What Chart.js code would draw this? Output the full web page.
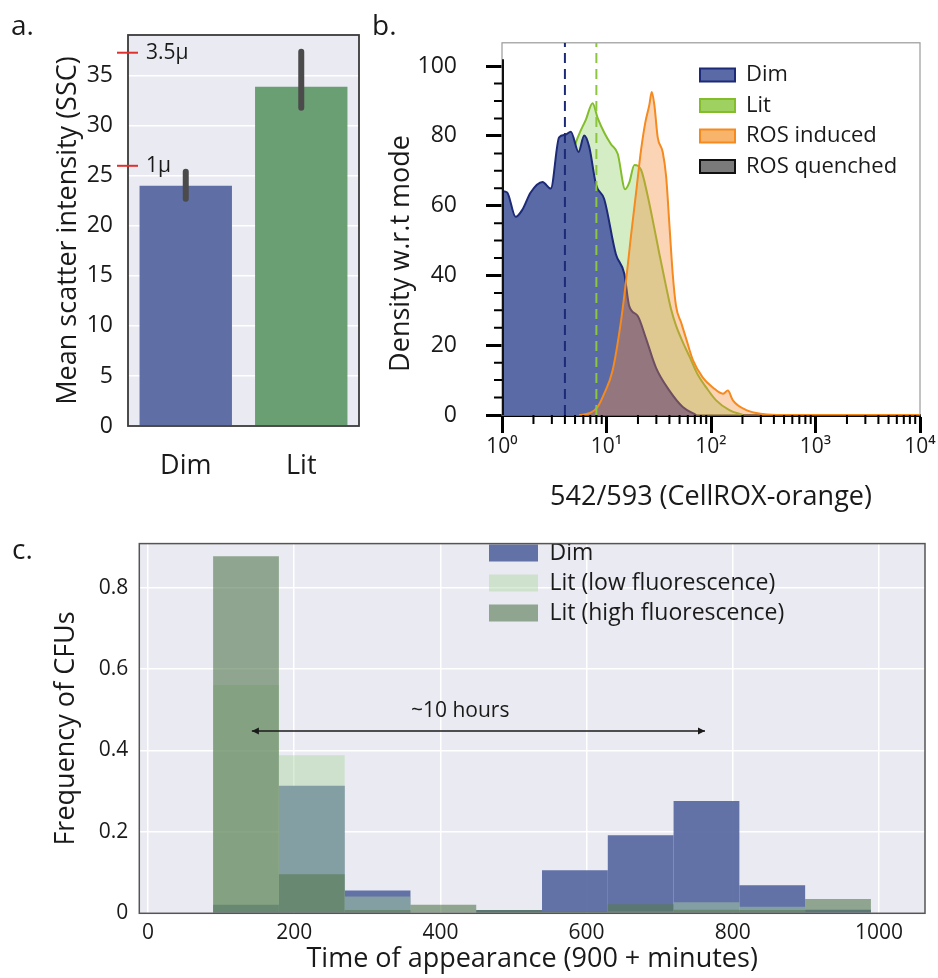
<!DOCTYPE html>
<html>
<head>
<meta charset="utf-8">
<title>Scatter, CellROX and CFU timing</title>
<script src="https://cdn.jsdelivr.net/npm/chart.js@4.4.1/dist/chart.umd.min.js"></script>
<style>
  body { margin: 0; background: #fff; }
  #figure { position: relative; width: 938px; height: 978px; font-family: 'Open Sans', sans-serif; color: #1a1a1a; }
  #figure canvas { position: absolute; }
  .tag { position: absolute; font-size: 28px; line-height: 28px; }
</style>
</head>
<body>
<div id="figure">
  <canvas id="chart-a" width="370" height="500" style="left:0;top:0"></canvas>
  <canvas id="chart-b" width="568" height="520" style="left:370px;top:0"></canvas>
  <canvas id="chart-c" width="938" height="458" style="left:0;top:520px"></canvas>
  <div class="tag" style="left:11px;top:10px">a.</div>
  <div class="tag" style="left:372px;top:10px">b.</div>
  <div class="tag" style="left:12px;top:534px">c.</div>
</div>
<script>
// ---- panel a: mean side scatter ----
const groups = ['Dim', 'Lit'];
const meanSSC = [24.0, 33.9];
const sscLow = [22.7, 31.8];
const sscHigh = [25.4, 37.4];
const sscTicks = [0, 5, 10, 15, 20, 25, 30, 35];
const beadLevels = [26.0, 37.3];          // size reference beads
const beadLabels = ['1μ', '3.5μ'];

// ---- panel b: CellROX-orange histograms (x = intensity, y = density w.r.t mode) ----
const dimX = [1.0, 1.12, 1.35, 1.57, 1.88, 2.44, 2.93, 3.52, 4.02, 4.56, 5.4, 6.12, 6.84, 7.93, 9.5, 12.3, 14.8, 16.5, 19.9, 23.9, 29.8, 40.0, 53.7, 72.1];
const dimDensity = [64.2, 63.8, 56.8, 58.9, 63.8, 66.8, 64.9, 79.6, 80.3, 81.2, 75.4, 80.1, 76.8, 66.1, 61.9, 46.1, 40.5, 31.2, 28.4, 21.9, 13.5, 7.0, 2.3, 0];
const litX = [1.0, 2.0, 3.0, 4.0, 4.6, 5.4, 6.35, 7.36, 8.22, 9.5, 11.0, 12.8, 15.1, 16.5, 18.5, 21.4, 24.8, 28.7, 32.1, 37.2, 41.5, 46.3, 53.7, 62.2, 74.6, 90.0, 112, 150, 202];
const litDensity = [3, 22, 45, 64, 74, 80.1, 84.7, 89.4, 85.2, 81.0, 77.7, 74.9, 64.7, 66.6, 71.7, 70.3, 62.8, 53.5, 46.1, 36.8, 30.3, 25.6, 20.9, 16.8, 11.6, 7.9, 4.2, 1.4, 0];
const rosX = [5.48, 6.84, 8.22, 9.5, 11.4, 13.7, 15.4, 17.2, 19.2, 21.4, 23.5, 25.7, 27.1, 28.7, 30.9, 34.5, 37.2, 40.0, 43.0, 46.3, 51.8, 57.8, 67.0, 83.5, 104, 130, 145, 162, 218, 314, 489, 10000];
const rosDensity = [0, 0.5, 2.3, 6.1, 12.6, 26.5, 38.6, 51.7, 63.8, 75.9, 83.8, 88.9, 92.6, 88.9, 79.6, 75.4, 68.4, 54.5, 40.5, 31.2, 26.5, 21.9, 15.8, 10.7, 7.9, 6.1, 7.0, 4.2, 1.4, 0.3, 0, 0];
const quenchedX = [1, 1];
const quenchedDensity = [0, 102];
const dimMedian = 4.0;
const litMedian = 8.0;
const decadeTicks = [1, 10, 100, 1000, 10000];
const decadeLabels = ['10⁰', '10¹', '10²', '10³', '10⁴'];
const logMinorSteps = [2, 3, 4, 5, 6, 7, 8, 9];
const densityTicks = [0, 20, 40, 60, 80, 100];

// ---- panel c: time of CFU appearance ----
const binEdges = [89, 179, 269, 359, 449, 539, 629, 719, 809, 899, 989];
const dimFreq     = [0.021, 0.313, 0.056, 0.000, 0.008, 0.106, 0.192, 0.276, 0.069, 0.009];
const litLowFreq  = [0.561, 0.388, 0.041, 0.000, 0.003, 0.003, 0.005, 0.027, 0.016, 0.000];
const litHighFreq = [0.877, 0.096, 0.008, 0.021, 0.008, 0.004, 0.022, 0.009, 0.008, 0.035];
const timeTicks = [0, 200, 400, 600, 800, 1000];
const freqTicks = [0, 0.2, 0.4, 0.6, 0.8];
const spanFrom = 142, spanTo = 762, spanLevel = 0.448;
const spanText = '~10 hours', spanTextAt = 427, spanTextLevel = 0.497;

Chart.defaults.font.family = "'Open Sans', sans-serif";
Chart.defaults.color = '#1a1a1a';
Chart.defaults.animation = false;
Chart.defaults.events = [];
Chart.defaults.plugins.tooltip.enabled = false;

const pairs = (xs, ys) => xs.map((x, i) => ({ x, y: ys[i] }));
const fixTicks = list => scale => { scale.ticks = list.map(v => ({ value: v })); };

const binCenters = binEdges.slice(0, -1).map((e, i) => (e + binEdges[i + 1]) / 2);
const densityMinor = [];
for (let v = 5; v < 100; v += 5) if (v % 20) densityMinor.push(v);
const intensityMinor = [];
decadeTicks.slice(0, -1).forEach(d => logMinorSteps.forEach(m => intensityMinor.push(d * m)));

// plot background + frame
const plotFrame = {
  id: 'plotFrame',
  beforeDraw(chart, args, o) {
    if (!o.fill) return;
    const { ctx, chartArea: a } = chart;
    ctx.save();
    ctx.fillStyle = o.fill;
    ctx.fillRect(a.left, a.top, a.width, a.height);
    ctx.restore();
  },
  beforeDatasetsDraw(chart, args, o) { if (o.under) drawFrame(chart, o); },
  afterDatasetsDraw(chart, args, o) { if (!o.under) drawFrame(chart, o); }
};
function drawFrame(chart, o) {
  const { ctx, chartArea: a } = chart;
  ctx.save();
  ctx.strokeStyle = o.color;
  ctx.lineWidth = o.width;
  ctx.strokeRect(a.left, a.top, a.width, a.height);
  ctx.restore();
}

// move the built-in legend to a spot inside the plot
const legendSpot = {
  id: 'legendSpot',
  afterLayout(chart, args, o) {
    if (!chart.legend) return;
    chart.legend.left = o.left;
    chart.legend.top = o.top;
  }
};

// panel a: CI bars and bead size marks
const errorBars = {
  id: 'errorBars',
  afterDatasetsDraw(chart) {
    const { ctx, scales: { y } } = chart;
    const meta = chart.getDatasetMeta(0);
    ctx.save();
    ctx.strokeStyle = '#4b4b4b';
    ctx.lineWidth = 6;
    ctx.lineCap = 'round';
    meta.data.forEach((bar, i) => {
      ctx.beginPath();
      ctx.moveTo(bar.x, y.getPixelForValue(sscLow[i]));
      ctx.lineTo(bar.x, y.getPixelForValue(sscHigh[i]));
      ctx.stroke();
    });
    ctx.restore();
  }
};
const beadMarks = {
  id: 'beadMarks',
  afterDraw(chart) {
    const { ctx, chartArea: a, scales: { y } } = chart;
    ctx.save();
    ctx.font = "21px 'Open Sans', sans-serif";
    ctx.textBaseline = 'middle';
    beadLevels.forEach((v, i) => {
      const py = y.getPixelForValue(v);
      ctx.strokeStyle = '#e0302c';
      ctx.lineWidth = 2;
      ctx.beginPath();
      ctx.moveTo(a.left - 11, py);
      ctx.lineTo(a.left + 10, py);
      ctx.stroke();
      ctx.fillStyle = '#1a1a1a';
      ctx.fillText(beadLabels[i], a.left + 18, py);
    });
    ctx.restore();
  }
};

// panel b: short minor ticks
const minorTicks = {
  id: 'minorTicks',
  afterDraw(chart) {
    const { ctx, chartArea: a, scales: { x, y } } = chart;
    ctx.save();
    ctx.strokeStyle = '#000';
    ctx.lineWidth = 2;
    ctx.beginPath();
    intensityMinor.forEach(v => {
      const px = x.getPixelForValue(v);
      ctx.moveTo(px, a.bottom);
      ctx.lineTo(px, a.bottom + 9);
    });
    densityMinor.forEach(v => {
      const py = y.getPixelForValue(v);
      ctx.moveTo(a.left, py);
      ctx.lineTo(a.left - 8, py);
    });
    ctx.stroke();
    ctx.restore();
  }
};

// panel c: double arrow with label
const spanArrow = {
  id: 'spanArrow',
  afterDatasetsDraw(chart) {
    const { ctx, scales: { x, y } } = chart;
    const x1 = x.getPixelForValue(spanFrom), x2 = x.getPixelForValue(spanTo);
    const py = y.getPixelForValue(spanLevel);
    ctx.save();
    ctx.strokeStyle = '#1a1a1a';
    ctx.fillStyle = '#1a1a1a';
    ctx.lineWidth = 1.5;
    ctx.beginPath();
    ctx.moveTo(x1, py);
    ctx.lineTo(x2, py);
    ctx.stroke();
    [[x1, 1], [x2, -1]].forEach(([px, dir]) => {
      ctx.beginPath();
      ctx.moveTo(px, py);
      ctx.lineTo(px + dir * 7, py - 3.5);
      ctx.lineTo(px + dir * 7, py + 3.5);
      ctx.closePath();
      ctx.fill();
    });
    ctx.font = "21px 'Open Sans', sans-serif";
    ctx.textAlign = 'center';
    ctx.textBaseline = 'middle';
    ctx.fillText(spanText, x.getPixelForValue(spanTextAt), y.getPixelForValue(spanTextLevel));
    ctx.restore();
  }
};

const legendLabels = (boxWidth, boxHeight, size, padding) => ({
  boxWidth, boxHeight, padding,
  font: { size },
  color: '#1a1a1a',
  generateLabels(chart) {
    return Chart.defaults.plugins.legend.labels.generateLabels(chart).map(item => {
      const ds = chart.data.datasets[item.datasetIndex];
      if (ds.legendColor) item.fillStyle = ds.legendColor;
      if (item.lineWidth > 2) item.lineWidth = 2;
      return item;
    });
  },
  filter: (item, data) => !data.datasets[item.datasetIndex].isMarker,
  sort: (a, b) => a.datasetIndex - b.datasetIndex
});

// ---------------- a ----------------
new Chart(document.getElementById('chart-a'), {
  type: 'bar',
  data: {
    labels: groups,
    datasets: [{
      label: 'Mean scatter intensity',
      data: meanSSC,
      backgroundColor: ['#5f6fa5', '#6a9f73'],
      barPercentage: 0.8,
      categoryPercentage: 1
    }]
  },
  options: {
    responsive: false,
    layout: { padding: { top: 35, right: 11, left: 0, bottom: 0 } },
    scales: {
      x: {
        grid: { display: false },
        border: { display: false },
        ticks: { font: { size: 27 }, padding: 16 },
        afterFit: s => { s.height = 74; }
      },
      y: {
        min: 0,
        max: 39.07,
        afterBuildTicks: fixTicks(sscTicks),
        grid: { color: '#ffffff', lineWidth: 1.5, drawTicks: false },
        border: { display: false },
        ticks: { font: { size: 23 }, padding: 15 },
        title: { display: true, text: 'Mean scatter intensity (SSC)', font: { size: 27 }, padding: { top: 52, bottom: 0 } },
        afterFit: s => { s.width = 128; }
      }
    },
    plugins: {
      legend: { display: false },
      plotFrame: { fill: '#eaeaf2', color: '#3a3a3a', width: 1.8 }
    }
  },
  plugins: [plotFrame, errorBars, beadMarks]
});

// ---------------- b ----------------
const Y_TOP_B = 106.7;
const curve = { pointRadius: 0, borderWidth: 2, cubicInterpolationMode: 'monotone' };
const straight = { pointRadius: 0, borderWidth: 2, tension: 0, cubicInterpolationMode: 'default', fill: false };
new Chart(document.getElementById('chart-b'), {
  type: 'line',
  data: {
    datasets: [
      { ...curve, label: 'Dim', data: pairs(dimX, dimDensity), borderColor: '#1c2a78', backgroundColor: '#5a6aa6', fill: 'origin', order: 1 },
      { ...curve, label: 'Lit', data: pairs(litX, litDensity), borderColor: '#84bd2c', backgroundColor: 'rgba(170,220,140,0.5)', legendColor: '#9fd160', fill: 'origin', order: 2 },
      { ...curve, label: 'ROS induced', data: pairs(rosX, rosDensity), borderColor: '#f58a1f', backgroundColor: 'rgba(244,140,60,0.38)', legendColor: '#f8b46a', fill: 'origin', order: 0 },
      { ...straight, label: 'ROS quenched', data: pairs(quenchedX, quenchedDensity), borderColor: '#111111', backgroundColor: '#7a7a7a', borderWidth: 4, order: -1 },
      { ...straight, label: 'Dim median', data: [{ x: dimMedian, y: 0 }, { x: dimMedian, y: Y_TOP_B }], borderColor: '#1c2a78', borderDash: [10, 6], order: -2, isMarker: true },
      { ...straight, label: 'Lit median', data: [{ x: litMedian, y: 0 }, { x: litMedian, y: Y_TOP_B }], borderColor: '#8cc63f', borderDash: [10, 6], order: -2, isMarker: true }
    ]
  },
  options: {
    responsive: false,
    layout: { padding: { top: 33, right: 18, left: 0, bottom: 0 } },
    scales: {
      x: {
        type: 'logarithmic',
        min: 1,
        max: 10000,
        z: 1,
        afterBuildTicks: fixTicks(decadeTicks),
        grid: { drawOnChartArea: false, drawTicks: true, tickLength: 18, tickWidth: 3, tickColor: '#000' },
        border: { display: true, color: '#000', width: 3 },
        ticks: { callback: v => decadeLabels[decadeTicks.indexOf(v)], font: { size: 21 }, padding: 1, maxRotation: 0, autoSkip: false },
        title: { display: true, text: '542/593 (CellROX-orange)', font: { size: 27 }, padding: { top: 0, bottom: 6 } },
        afterFit: s => { s.height = 105; }
      },
      y: {
        min: 0,
        max: Y_TOP_B,
        afterBuildTicks: fixTicks(densityTicks),
        grid: { drawOnChartArea: false, drawTicks: true, tickLength: 16, tickWidth: 3, tickColor: '#000' },
        border: { display: false },
        ticks: { font: { size: 23 }, padding: 29 },
        title: { display: true, text: 'Density w.r.t mode       ', font: { size: 27 }, padding: { top: 15, bottom: 0 } },
        afterFit: s => { s.width = 132; }
      }
    },
    plugins: {
      legend: { position: 'chartArea', align: 'start', fullSize: false, labels: legendLabels(35, 13, 22, 8.5) },
      legendSpot: { left: 321.5, top: 55.5 },
      plotFrame: { color: '#9a9a9a', width: 1.2, under: true }
    }
  },
  plugins: [plotFrame, legendSpot, minorTicks]
});

// ---------------- c ----------------
new Chart(document.getElementById('chart-c'), {
  type: 'bar',
  data: {
    datasets: [
      { label: 'Dim', data: pairs(binCenters, dimFreq), backgroundColor: 'rgba(86,102,160,0.92)', order: 2 },
      { label: 'Lit (low fluorescence)', data: pairs(binCenters, litLowFreq), backgroundColor: 'rgba(174,216,160,0.45)', order: 1 },
      { label: 'Lit (high fluorescence)', data: pairs(binCenters, litHighFreq), backgroundColor: 'rgba(87,123,82,0.62)', order: 0 }
    ]
  },
  options: {
    responsive: false,
    layout: { padding: { top: 6.7, right: 13, left: 0, bottom: 0 } },
    datasets: { bar: { grouped: false, barPercentage: 1, categoryPercentage: 1, borderWidth: 0, inflateAmount: 0 } },
    scales: {
      x: {
        type: 'linear',
        min: -12,
        max: 1063,
        offset: false,
        afterBuildTicks: fixTicks(timeTicks),
        grid: { offset: false, color: '#ffffff', lineWidth: 1.5, drawTicks: false },
        border: { display: false },
        ticks: { font: { size: 21 }, padding: 7, callback: v => String(v) },
        title: { display: true, text: 'Time of appearance (900 + minutes)', font: { size: 27 }, padding: { top: 0, bottom: 2 } },
        afterFit: s => { s.height = 64.7; }
      },
      y: {
        min: 0,
        max: 0.908,
        afterBuildTicks: fixTicks(freqTicks),
        grid: { color: '#ffffff', lineWidth: 1.5, drawTicks: false },
        border: { display: false },
        ticks: { font: { size: 21 }, padding: 11, callback: v => (v === 0 ? '0' : v.toFixed(1)) },
        title: { display: true, text: 'Frequency of CFUs', font: { size: 27 }, padding: { top: 50, bottom: 0 } },
        afterFit: s => { s.width = 139.3; }
      }
    },
    plugins: {
      legend: { position: 'chartArea', align: 'start', fullSize: false, labels: legendLabels(49, 17, 23, 7) },
      legendSpot: { left: 482, top: 14.5 },
      plotFrame: { fill: '#eaeaf2', color: '#555555', width: 1.5 }
    }
  },
  plugins: [plotFrame, legendSpot, spanArrow]
});
</script>
</body>
</html>
